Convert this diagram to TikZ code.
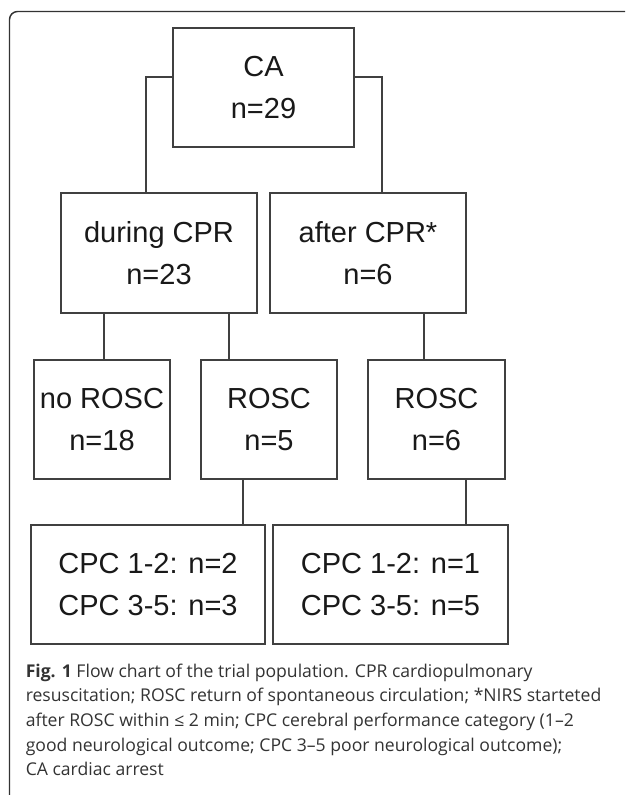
\documentclass[tikz,border=0pt]{standalone}
\usepackage{fontspec}
\setmainfont{Liberation Sans}
\newfontfamily\capfont{Open Sans}

\begin{document}
\begin{tikzpicture}[x=0.75pt,y=-0.75pt,
    box/.style={draw=black!75, line width=1.1pt, align=center, inner sep=0pt,
        text=black!90, font=\fontsize{21.75}{31.5}\selectfont},
    link/.style={draw=black!75, line width=1.1pt}]
    \useasboundingbox (0,0) rectangle (625,795);
    \fill [white] (0,0) rectangle (625,795);
    % frame of the figure
    \draw [black!80, line width=1.1pt, rounded corners=6pt]
        (9.5,795) -- (9.5,11.5) -- (625,11.5);

    \node [box, minimum width=135.75pt, minimum height=89.25pt] (ca) at (263.5,87.5) {CA\\n=29};
    \node [box, minimum width=147pt, minimum height=90pt] (during) at (159,253) {during CPR\\n=23};
    \node [box, minimum width=147pt, minimum height=90pt] (after) at (368,253) {after CPR*\\n=6};
    \node [box, minimum width=102pt, minimum height=89.25pt] (norosc) at (102,419.5) {no ROSC\\n=18};
    \node [box, minimum width=102pt, minimum height=89.25pt] (rosca) at (269,419.5) {ROSC\\n=5};
    \node [box, minimum width=102.75pt, minimum height=89.25pt] (roscb) at (436.5,419.5) {ROSC\\n=6};
    \node [box, minimum width=175.5pt, minimum height=89.25pt] (cpca) at (148,584.5)
        {CPC 1-2: n=2\\CPC 3-5: n=3};
    \node [box, minimum width=176.25pt, minimum height=89.25pt] (cpcb) at (390.5,584.5)
        {CPC 1-2: n=1\\CPC 3-5: n=5};

    \draw [link] ([yshift=7.9pt]ca.west) -| ([xshift=-9.75pt]during.north);
    \draw [link] ([yshift=7.9pt]ca.east) -| ([xshift=10.5pt]after.north);
    \draw [link] ([xshift=1.5pt]norosc.north) -- ([xshift=1.5pt]norosc.north |- during.south);
    \draw [link] ([xshift=-30pt]rosca.north) -- ([xshift=-30pt]rosca.north |- during.south);
    \draw [link] ([xshift=-9.4pt]roscb.north) -- ([xshift=-9.4pt]roscb.north |- after.south);
    \draw [link] ([xshift=-19.5pt]rosca.south) -- ([xshift=-19.5pt]rosca.south |- cpca.north);
    \draw [link] ([xshift=22pt]roscb.south) -- ([xshift=22pt]roscb.south |- cpcb.north);

    \node [anchor=north west, align=left, inner sep=0pt, text=black!80,
        font=\capfont\fontsize{13.2}{18.5}\selectfont] (caption) at (25.5,663.5)
        {\textbf{Fig. 1} Flow chart of the trial population. CPR cardiopulmonary\\
         resuscitation; ROSC return of spontaneous circulation; *NIRS starteted\\
         after ROSC within ≤ 2 min; CPC cerebral performance category (1–2\\
         good neurological outcome; CPC 3–5 poor neurological outcome);\\
         CA cardiac arrest};
\end{tikzpicture}
\end{document}
